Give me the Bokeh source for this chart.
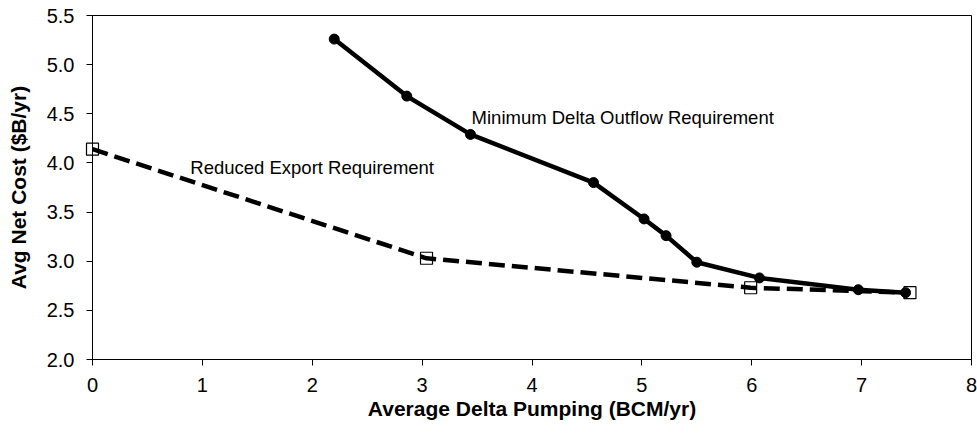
from bokeh.plotting import figure
from bokeh.models import Range1d, FixedTicker, Label
from bokeh.embed import file_html
from bokeh.resources import INLINE

# Minimum Delta Outflow Requirement (solid, circles)
mdo_x = [2.20, 2.86, 3.44, 4.56, 5.02, 5.22, 5.50, 6.07, 6.97, 7.40]
mdo_y = [5.26, 4.68, 4.29, 3.80, 3.43, 3.26, 2.99, 2.83, 2.71, 2.68]
# Reduced Export Requirement (dashed, squares)
rer_x = [0.0, 3.04, 5.99, 7.44]
rer_y = [4.14, 3.03, 2.73, 2.68]

x_ticks = [0, 1, 2, 3, 4, 5, 6, 7, 8]
y_ticks = [2.0, 2.5, 3.0, 3.5, 4.0, 4.5, 5.0, 5.5]

FONT = "Liberation Sans"

p = figure(width=977, height=433, output_backend="svg", toolbar_location=None,
           x_range=Range1d(0, 8), y_range=Range1d(2.0, 5.5),
           min_border_left=92, min_border_top=15, min_border_right=6, min_border_bottom=74)
p.background_fill_color = "white"
p.border_fill_color = "white"
p.outline_line_color = "black"
p.outline_line_width = 1
p.xgrid.visible = False
p.ygrid.visible = False

for ax in (p.xaxis[0], p.yaxis[0]):
    ax.axis_line_color = "black"
    ax.major_tick_line_color = "black"
    ax.minor_tick_line_color = None
    ax.major_tick_in = 0
    ax.major_tick_out = 6
    ax.major_label_text_font = FONT
    ax.major_label_text_font_size = "20px"
    ax.major_label_text_color = "black"
    ax.axis_label_text_font = FONT
    ax.axis_label_text_font_size = "21px"
    ax.axis_label_text_font_style = "bold"
    ax.axis_label_text_color = "black"

p.xaxis.ticker = FixedTicker(ticks=x_ticks)
p.yaxis.ticker = FixedTicker(ticks=y_ticks)
p.yaxis.major_label_overrides = {t: f"{t:.1f}" for t in y_ticks}
p.xaxis.axis_label = "Average Delta Pumping (BCM/yr)"
p.yaxis.axis_label = "Avg Net Cost ($B/yr)"
p.xaxis.major_label_standoff = 12
p.yaxis.major_label_standoff = 12
p.xaxis.axis_label_standoff = 2
p.yaxis.axis_label_standoff = 14

p.line(rer_x, rer_y, line_color="black", line_width=4.5, line_dash="16 7")
sq = p.scatter(rer_x, rer_y, marker="square", size=12, fill_color=None,
               line_color="black", line_width=1.2)
sq.level = "overlay"
p.line(mdo_x, mdo_y, line_color="black", line_width=4.5)
p.scatter(mdo_x, mdo_y, marker="circle", size=10, fill_color="black",
          line_color="black")

p.add_layout(Label(x=3.45, y=4.465, text="Minimum Delta Outflow Requirement",
                   text_font=FONT, text_font_size="18.5px", text_color="black",
                   text_baseline="middle"))
p.add_layout(Label(x=0.89, y=3.957, text="Reduced Export Requirement",
                   text_font=FONT, text_font_size="18.5px", text_color="black",
                   text_baseline="middle"))

open("out.html", "w").write(file_html(p, INLINE))
